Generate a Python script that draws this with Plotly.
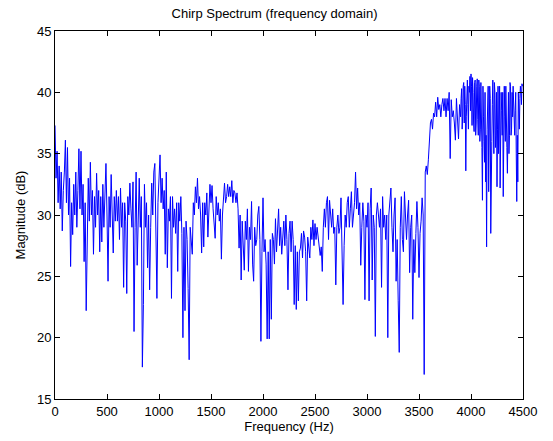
import plotly.graph_objects as go

# Frequency grid (Hz), 10 Hz step
freq_hz = list(range(0, 4500, 10))

# Magnitude (dB), one row per 100 Hz
mag_db = [
    37.3, 33.0, 35.2, 31.0, 34.0, 30.5, 33.5, 28.7, 32.0, 33.5,   # 0
    36.1, 31.0, 35.5, 30.0, 33.0, 25.8, 31.0, 28.4, 32.5, 30.0,   # 100
    33.5, 29.0, 32.0, 35.4, 30.5, 35.2, 30.0, 32.5, 26.2, 31.0,   # 200
    22.2, 30.0, 33.0, 29.5, 34.3, 30.0, 32.0, 26.8, 31.5, 29.0,   # 300
    33.4, 30.0, 32.0, 27.0, 31.5, 27.8, 32.5, 29.0, 31.0, 34.2,   # 400
    30.0, 24.6, 31.5, 29.0, 33.3, 30.0, 26.9, 31.5, 29.5, 32.0,   # 500
    29.5, 31.5, 28.0, 32.2, 29.0, 31.0, 24.1, 31.0, 29.5, 23.6,   # 600
    31.5, 30.0, 32.6, 30.5, 29.0, 32.7, 20.5, 29.0, 33.5, 25.9,   # 700
    31.0, 33.0, 29.0, 31.5, 17.6, 22.7, 32.5, 29.0, 31.0, 25.7,   # 800
    30.0, 23.9, 29.0, 32.6, 30.0, 33.5, 34.2, 29.0, 23.2, 31.0,   # 900
    33.0, 34.9, 31.0, 33.0, 30.5, 32.0, 26.8, 33.5, 25.7, 30.5,   # 1000
    29.5, 31.5, 23.2, 31.5, 29.0, 30.5, 28.5, 31.0, 25.4, 31.0,   # 1100
    29.5, 31.5, 28.5, 20.0, 29.0, 22.2, 29.5, 28.0, 24.0, 18.2,   # 1200
    29.0, 28.0, 26.8, 31.0, 30.0, 32.3, 31.0, 33.0, 30.5, 31.5,   # 1300
    30.0, 26.9, 31.0, 27.4, 31.0, 30.0, 31.8, 28.2, 31.0, 32.5,   # 1400
    31.0, 32.4, 30.5, 28.9, 28.1, 31.5, 30.0, 31.0, 29.5, 30.5,   # 1500
    26.4, 30.0, 31.5, 32.6, 31.0, 31.5, 32.5, 31.5, 32.3, 31.5,   # 1600
    32.8, 31.0, 32.0, 31.8, 31.0, 31.8, 30.5, 27.3, 30.0, 24.7,   # 1700
    29.5, 27.0, 25.5, 29.5, 28.0, 30.5, 25.4, 29.0, 28.0, 31.1,   # 1800
    26.0, 24.6, 29.0, 27.5, 28.0, 30.0, 30.7, 28.0, 19.7, 27.0,   # 1900
    31.4, 27.0, 28.0, 26.0, 19.9, 27.0, 19.9, 28.0, 21.5, 28.5,   # 2000
    28.0, 26.0, 29.7, 27.0, 28.5, 30.5, 27.5, 29.0, 26.8, 28.0,   # 2100
    29.5, 27.5, 30.0, 28.0, 23.9, 28.5, 29.5, 27.0, 29.5, 28.0,   # 2200
    22.7, 27.5, 22.3, 27.0, 23.0, 27.0, 27.3, 28.5, 26.5, 28.7,   # 2300
    28.2, 27.0, 23.0, 28.2, 27.5, 26.5, 29.0, 28.0, 29.6, 27.5,   # 2400
    29.3, 28.0, 29.0, 28.0, 27.5, 26.7, 27.4, 25.4, 29.0, 30.5,   # 2500
    29.0, 31.0, 31.5, 28.0, 31.2, 29.5, 29.0, 30.5, 28.5, 29.0,   # 2600
    24.3, 29.0, 30.0, 28.5, 29.0, 31.4, 28.0, 22.7, 27.5, 30.0,   # 2700
    29.0, 31.0, 31.5, 29.0, 30.5, 31.9, 29.0, 30.0, 31.0, 33.5,   # 2800
    30.5, 32.2, 30.0, 31.0, 25.9, 29.0, 31.0, 29.5, 23.1, 30.0,   # 2900
    29.0, 31.0, 23.0, 30.5, 32.2, 24.7, 30.0, 29.0, 20.1, 30.0,   # 3000
    31.0, 30.0, 29.0, 30.5, 24.1, 31.5, 29.0, 30.0, 28.0, 30.0,   # 3100
    20.0, 30.0, 31.0, 32.2, 29.0, 27.0, 30.0, 31.4, 24.6, 28.0,   # 3200
    23.0, 18.8, 29.0, 31.5, 28.0, 27.0, 31.9, 29.0, 28.0, 30.0,   # 3300
    31.2, 25.3, 29.0, 30.0, 21.5, 28.0, 25.3, 28.5, 31.1, 29.0,   # 3400
    24.9, 28.5, 29.5, 31.4, 30.0, 17.0, 33.5, 34.0, 33.3, 34.5,   # 3500
    36.0, 37.5, 37.8, 37.0, 38.3, 38.0, 39.2, 38.0, 39.6, 38.6,   # 3600
    39.0, 38.0, 39.0, 39.5, 38.5, 39.5, 38.0, 39.5, 38.5, 40.0,   # 3700
    34.6, 39.4, 38.0, 38.5, 37.5, 36.1, 39.5, 38.0, 36.2, 39.0,   # 3800
    38.0, 40.3, 38.0, 40.8, 40.5, 33.6, 40.0, 39.0, 40.5, 41.3,   # 3900
    41.5, 37.3, 40.0, 36.8, 41.0, 37.5, 41.1, 36.5, 40.5, 37.0,   # 4000
    39.0, 31.2, 38.0, 34.3, 32.7, 27.4, 39.0, 31.9, 40.5, 28.5,   # 4100
    36.0, 41.0, 35.0, 40.0, 36.5, 32.3, 40.5, 37.0, 32.2, 40.0,   # 4200
    36.5, 31.5, 40.5, 36.0, 39.0, 33.4, 40.0, 36.5, 40.5, 37.0,   # 4300
    38.0, 39.5, 36.5, 40.0, 31.1, 32.7, 38.0, 39.5, 40.0, 40.7,   # 4400
]

# Extra in-between bins for the dense high band (3905 .. 4495 Hz)
freq_hz_mid = list(range(3905, 4500, 10))
mag_db_mid = [
    39.5, 37.0, 40.5, 37.5, 39.0, 38.0, 41.0, 37.0, 40.0, 38.5,   # 3905
    40.5, 41.2, 37.5, 40.8, 36.5, 40.5, 37.8, 41.0, 36.0, 40.8,   # 4005
    35.5, 40.5, 36.0, 40.0, 36.5, 37.0, 40.5, 35.0, 39.5, 35.5,   # 4105
    39.0, 37.5, 40.8, 35.5, 40.0, 37.0, 35.0, 40.5, 36.0, 38.5,   # 4205
    40.0, 36.5, 38.0, 40.5, 35.5, 38.5, 35.0, 40.8, 36.5, 40.0,   # 4305
    40.5, 37.5, 38.5, 35.0, 36.5, 40.0, 37.0, 40.5, 39.0, 40.5,   # 4405
]

x_ticks = [0, 500, 1000, 1500, 2000, 2500, 3000, 3500, 4000, 4500]
y_ticks = [15, 20, 25, 30, 35, 40, 45]

# merge both sample sets in frequency order
pairs = sorted(zip(freq_hz + freq_hz_mid, mag_db + mag_db_mid))
x_all = [p[0] for p in pairs]
y_all = [p[1] for p in pairs]

FONT = "Liberation Sans, Arial, Helvetica, sans-serif"

fig = go.Figure()
fig.add_trace(go.Scatter(
    x=x_all, y=y_all, mode="lines",
    line=dict(color="#0000FF", width=1),
    showlegend=False, hoverinfo="skip",
))

axis_common = dict(
    showgrid=False, zeroline=False, automargin=False,
    showline=True, linecolor="black", linewidth=1, mirror="ticks",
    ticks="inside", ticklen=5, tickcolor="black", tickwidth=1,
    tickfont=dict(family=FONT, size=13, color="black"),
)

fig.update_layout(
    width=553, height=441,
    margin=dict(l=55, r=30, t=31, b=42, autoexpand=False),
    paper_bgcolor="white", plot_bgcolor="white",
    font=dict(family=FONT, size=13, color="black"),
    title=dict(text="Chirp Spectrum (frequency domain)", x=0.4964, xanchor="center",
               y=1 - 13 / 441, yref="container", yanchor="middle", automargin=False,
               font=dict(family=FONT, size=13, color="black")),
    xaxis=dict(range=[0, 4500], tickvals=x_ticks,
               title=dict(text="Frequency (Hz)", standoff=2,
                          font=dict(family=FONT, size=13, color="black")),
               **axis_common),
    yaxis=dict(range=[15, 45], tickvals=y_ticks,
               title=dict(text="Magnitude (dB)", standoff=8,
                          font=dict(family=FONT, size=13, color="black")),
               **axis_common),
)

fig.write_html(
    "out.html",
    config={"displayModeBar": False},
    post_script="document.body.style.margin='0';document.body.style.overflow='hidden';",
)
